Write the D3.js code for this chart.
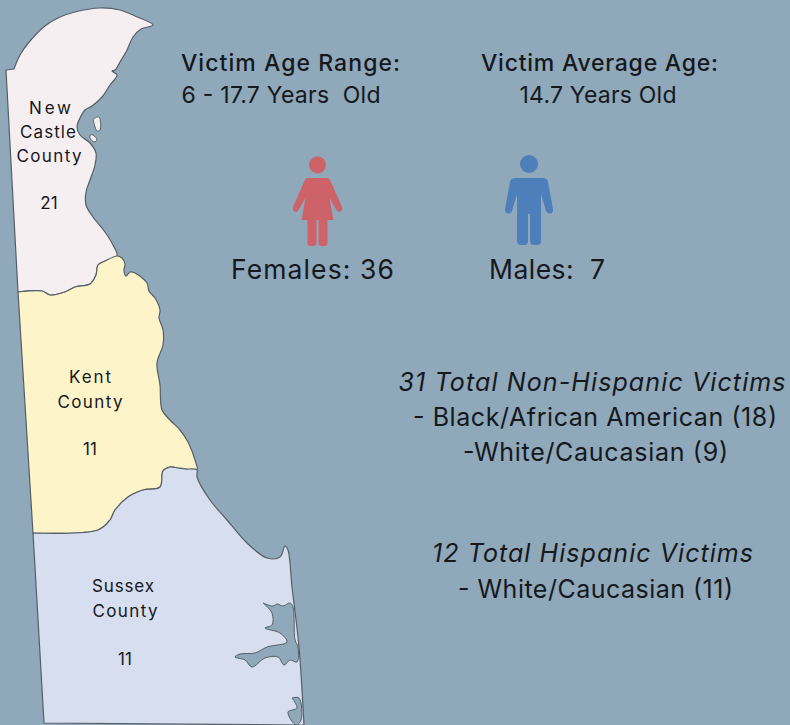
<!DOCTYPE html>
<html>
<head>
<meta charset="utf-8">
<script src="https://cdnjs.cloudflare.com/ajax/libs/d3/7.8.5/d3.min.js"></script>
<style>
  html, body { margin: 0; padding: 0; background: #8fa8ba; }
  svg { display: block; }
  text { font-family: "Inter", "Noto Sans", sans-serif; fill: #15181c; }
</style>
</head>
<body>
<svg id="chart" width="790" height="725"></svg>
<script>
'use strict'

// data
var counties = ["New Castle County", "Kent County", "Sussex County"];
var countyCounts = [21, 11, 11];
var countyColors = ["#f5eff2", "#fef4c9", "#d6deef"];
var genders = ["Females", "Males"];
var genderCounts = [36, 7];
var genderColors = ["#cd6369", "#4d7fbb"];
var ageRange = "6 - 17.7 Years  Old";
var averageAge = "14.7 Years Old";
var nonHispanicTotal = 31;
var nonHispanicGroups = [["Black/African American", 18], ["White/Caucasian", 9]];
var hispanicTotal = 12;
var hispanicGroups = [["White/Caucasian", 11]];

// map outlines. the curved run is the coast and the
// wiggly county lines, the straight tail is the surveyed state border
var newCastleCoast = [[14,69],[20,55],[30,41],[45,26],[60,17],[75,12],[100,8],[120,10],[135,16],[153,25],[141,29],[133,37],[127,50],[120,62],[115,70],[112,71],[117,75],[110,85],[102,97],[92,106],[85,110],[80,118],[77,127],[80,135],[90,143],[96,153],[95,165],[90,180],[86,192],[86,205],[93,217],[105,232],[113,245],[117,256],[105,261],[98,265],[96,275],[90,284],[75,287],[65,292],[50,295],[42,291],[18,292]];
var newCastleBorder = [[6,70]];
var kentCoast = [[18,292],[42,291],[50,295],[65,292],[75,287],[90,284],[96,275],[98,265],[105,261],[117,256],[122,258],[125,264],[124,270],[126,276],[130,272],[135,273],[147,283],[149,291],[155,298],[160,310],[159,318],[163,330],[163,345],[157,363],[160,385],[162,410],[170,420],[180,430],[188,442],[195,460],[197,470],[185,469],[178,468],[170,467],[163,471],[160,487],[143,490],[128,497],[115,510],[110,520],[98,530],[33,533]];
var kentBorder = [];
var sussexCoast = [[33,533],[98,530],[110,520],[115,510],[128,497],[143,490],[160,487],[163,471],[170,467],[178,468],[185,469],[197,470],[197,477],[210,500],[227,520],[247,543],[267,558],[280,557],[285,546],[288,550],[292,587],[299,647],[304,725]];
var sussexBorder = [[44,723]];
var rehobothBay = [[263,603],[273,606],[277,604],[283,606],[290,603],[293,607],[295,640],[298,647],[297,662],[290,660],[284,665],[278,657],[265,658],[252,667],[245,660],[235,657],[240,654],[255,653],[267,647],[287,642],[280,633],[265,628],[272,625],[272,613],[263,603]];
var indianRiver = [[292,698],[299,698],[301,720],[296,725],[288,712],[297,708],[292,698]];
var islands = [[[93,119],[99,117],[100,130],[97,131],[93,119]], [[90,135],[93,135],[97,140],[94,142],[90,138],[90,135]]];

var svg = d3.select("#chart");
var outline = d3.line().curve(d3.curveCatmullRom.alpha(0.5));
var straight = d3.line();

function countyPath(d){
    // drop the leading M of the straight run so it carries on from the curve
    var tail = d.border.length ? "L" + straight(d.border).slice(1) : "";
    return outline(d.coast) + tail + "Z";
}

var countyRings = [
    {coast: newCastleCoast, border: newCastleBorder},
    {coast: kentCoast, border: kentBorder},
    {coast: sussexCoast, border: sussexBorder}
];

svg.selectAll("path.county")
    .data(countyRings)
    .enter().append("path")
    .attr("class", "county")
    .attr("d", countyPath)
    .attr("fill", function(d,i){ return countyColors[i]; })
    .attr("stroke", "#555f66")
    .attr("stroke-width", 1.2)
    .attr("stroke-linejoin", "round");

svg.selectAll("path.water")
    .data([rehobothBay, indianRiver])
    .enter().append("path")
    .attr("class", "water")
    .attr("d", outline)
    .attr("fill", "#8fa8ba")
    .attr("stroke", "#555f66")
    .attr("stroke-width", 1);

svg.selectAll("path.island")
    .data(islands)
    .enter().append("path")
    .attr("class", "island")
    .attr("d", outline)
    .attr("fill", countyColors[0])
    .attr("stroke", "#555f66")
    .attr("stroke-width", 1);

// text helper, textLength keeps the wide look of the original lettering
function label(str, x, y, size, len, italic){
    var t = svg.append("text")
        .attr("x", x).attr("y", y)
        .attr("text-anchor", "middle")
        .style("font-size", size + "px")
        .style("white-space", "pre")
        .text(str);
    if(len) t.attr("textLength", len).attr("lengthAdjust", "spacing");
    if(italic) t.style("font-style", "italic");
    return t;
}

// county labels
var countyLabels = [
    {lines: ["New", "Castle", "County"], x: [50,48,49], y: [113.5,137.5,161.5], numX: 49, numY: 208.5, w: [42,56,65]},
    {lines: ["Kent", "County"], x: [90,90], y: [382.5,407.5], numX: 90, numY: 454.5, w: [42,65]},
    {lines: ["Sussex", "County"], x: [123,125], y: [591.5,616.5], numX: 125, numY: 664.5, w: [62,65]}
];
countyLabels.forEach(function(c, i){
    c.lines.forEach(function(line, j){
        label(line, c.x[j], c.y[j], 17, c.w[j]);
    });
    label(String(countyCounts[i]), c.numX, c.numY, 17);
});

// header block
label("Victim Age Range:", 290.5, 70.5, 23, 219).style("font-weight", 500);
label(ageRange, 281, 102.5, 23, 199);
label("Victim Average Age:", 599.5, 70.5, 23, 237).style("font-weight", 500);
label(averageAge, 598, 102.5, 23, 157);

// gender icons, local coords have the head centre at 0,0
var femaleBody = "M-9,13 L9,13 Q12,13 13,16 L24.5,42 Q25.5,46 22,47 Q20,47 19,45 L12,33 L16,55 L10,55 L10,78 Q10,81 7,81 L4,81 Q1,81 1,78 L1,55 L-1,55 L-1,78 Q-1,81 -4,81 L-7,81 Q-10,81 -10,78 L-10,55 L-16,55 L-12,33 L-19,45 Q-20,47 -22,47 Q-25.5,46 -24.5,42 L-13,16 Q-12,13 -9,13 Z";
var maleBody = "M-14,14 L14,14 Q18,14 19,18 L24,45 Q24.5,49 21,49.5 Q18,49.5 17,47 L12,30 L12,77 Q12,81 8,81 L5,81 Q1,81 1,77 L1,50 L-1,50 L-1,77 Q-1,81 -5,81 L-8,81 Q-12,81 -12,77 L-12,30 L-17,47 Q-18,49.5 -21,49.5 Q-24.5,49 -24,45 L-19,18 Q-18,14 -14,14 Z";
var genderIcons = [
    {x: 317.5, y: 165, r: 8.5, body: femaleBody},
    {x: 529, y: 164, r: 9, body: maleBody}
];
var icons = svg.selectAll("g.icon")
    .data(genderIcons)
    .enter().append("g")
    .attr("class", "icon")
    .attr("transform", function(d){ return "translate(" + d.x + "," + d.y + ")"; })
    .attr("fill", function(d,i){ return genderColors[i]; });
icons.append("circle").attr("r", function(d){ return d.r; });
icons.append("path").attr("d", function(d){ return d.body; });

label(genders[0] + ": " + genderCounts[0], 312.5, 278.5, 26.5, 163);
label(genders[1] + ":  " + genderCounts[1], 547, 278.5, 26.5, 116);

// ethnicity block
label(nonHispanicTotal + " Total Non-Hispanic Victims", 592, 390.5, 25, 387, true);
label("- " + nonHispanicGroups[0][0] + " (" + nonHispanicGroups[0][1] + ")", 595, 425.5, 25, 364);
label("-" + nonHispanicGroups[1][0] + " (" + nonHispanicGroups[1][1] + ")", 595.5, 460.5, 25, 265);
label(hispanicTotal + " Total Hispanic Victims", 592.5, 561.5, 25, 321, true);
label("- " + hispanicGroups[0][0] + " (" + hispanicGroups[0][1] + ")", 595.5, 597.5, 25, 275);
</script>
</body>
</html>
